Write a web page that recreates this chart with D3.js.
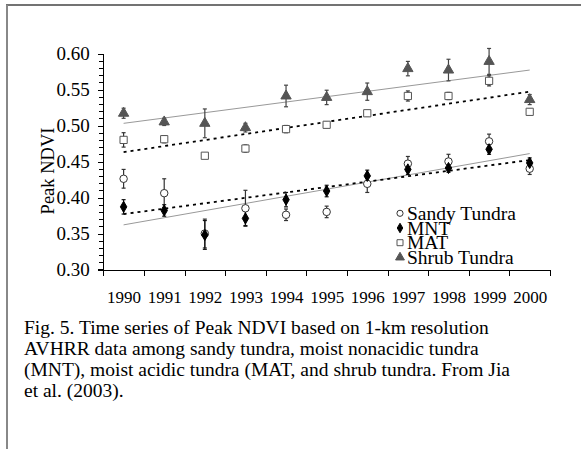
<!DOCTYPE html>
<html>
<head>
<meta charset="utf-8">
<script src="https://cdn.jsdelivr.net/npm/d3@7"></script>
<style>
  body { margin: 0; background: #fff; }
  svg text { font-family: "Liberation Serif", "Times New Roman", serif !important; }
  .axis path, .axis line { stroke: #000; shape-rendering: crispEdges; }
  .axis text { fill: #000; }
</style>
</head>
<body>
<div id="chart"></div>
<script>
const years = [1990, 1991, 1992, 1993, 1994, 1995, 1996, 1997, 1998, 1999, 2000];
const yTicks = [0.30, 0.35, 0.40, 0.45, 0.50, 0.55, 0.60];

const sandy = [0.426, 0.406, 0.350, 0.385, 0.376, 0.380, 0.419, 0.447, 0.450, 0.478, 0.440];
const sandyErr = [0.013, 0.020, 0.020, 0.025, 0.008, 0.008, 0.012, 0.010, 0.010, 0.010, 0.008];
const mnt = [0.387, 0.382, 0.348, 0.371, 0.397, 0.409, 0.430, 0.439, 0.441, 0.467, 0.448];
const mntErr = [0.010, 0.008, 0.020, 0.010, 0.010, 0.008, 0.008, 0.007, 0.006, 0.007, 0.007];
const mat = [0.480, 0.481, 0.458, 0.468, 0.495, 0.501, 0.517, 0.541, 0.541, 0.562, 0.519];
const matErr = [0.010, 0.005, 0.003, 0.005, 0.005, 0.004, 0.004, 0.007, 0.005, 0.007, 0.004];
const shrub = [0.517, 0.505, 0.503, 0.497, 0.541, 0.539, 0.547, 0.579, 0.577, 0.589, 0.536];
const shrubErr = [0.007, 0.005, 0.020, 0.006, 0.015, 0.010, 0.012, 0.010, 0.015, 0.018, 0.007];

// trend line ends (1990, 2000)
const sandyTrend = [0.362, 0.461];
const mntTrend = [0.377, 0.452];
const matTrend = [0.463, 0.547];
const shrubTrend = [0.503, 0.577];

const captionLines = [
  'Fig. 5. Time series of Peak NDVI based on 1-km resolution',
  'AVHRR data among sandy tundra, moist nonacidic tundra',
  '(MNT), moist acidic tundra (MAT, and shrub tundra. From Jia',
  'et al. (2003).'
];

const W = 581, H = 449;
const svg = d3.select('#chart').append('svg').attr('width', W).attr('height', H);

// page frame: top and left rules
svg.append('line').attr('x1', 6).attr('x2', W).attr('y1', 5).attr('y2', 5)
  .attr('stroke', '#444').attr('stroke-width', 1.3);
svg.append('line').attr('x1', 7).attr('x2', 7).attr('y1', 5).attr('y2', H)
  .attr('stroke', '#888').attr('stroke-width', 2);

const x = d3.scaleLinear().domain([1989.5, 2000.5]).range([103.3, 550]);
const y = d3.scaleLinear().domain([0.30, 0.60]).range([269.5, 53.5]);

// minor y ticks
svg.append('g')
  .attr('class', 'axis')
  .attr('transform', 'translate(102.7,0)')
  .call(d3.axisLeft(y).tickValues(d3.range(30, 61).map(v => v / 100)).tickSize(4).tickFormat(''))
  .call(g => g.select('.domain').remove());

svg.append('g')
  .attr('class', 'axis')
  .attr('transform', 'translate(102.7,0)')
  .call(d3.axisLeft(y).tickValues(yTicks).tickSize(5).tickSizeOuter(0).tickPadding(8).tickFormat(d3.format('.2f')))
  .attr('font-family', null)
  .attr('font-size', 19);

// x axis boundaries
svg.append('g')
  .attr('class', 'axis')
  .attr('transform', 'translate(0,269.5)')
  .call(d3.axisBottom(x).tickValues(d3.range(1989.5, 2001, 1)).tickSize(6).tickSizeOuter(0).tickFormat(''));
svg.append('line').attr('x1', 98).attr('x2', 103.3).attr('y1', 269.5).attr('y2', 269.5)
  .attr('stroke', '#000').attr('shape-rendering', 'crispEdges');

svg.append('g')
  .attr('class', 'axis')
  .attr('transform', 'translate(0,269.5)')
  .call(d3.axisBottom(x).tickValues(years).tickSize(0).tickPadding(21.5).tickFormat(d3.format('d')))
  .attr('font-family', null)
  .attr('font-size', 17)
  .call(g => g.select('.domain').remove());

svg.append('text')
  .attr('transform', 'translate(54,171) rotate(-90)')
  .attr('text-anchor', 'middle')
  .attr('font-size', 18.5)
  .text('Peak NDVI');

// trend lines
function trend(ends, dotted) {
  svg.append('line')
    .attr('x1', x(years[0])).attr('x2', x(years[years.length - 1]))
    .attr('y1', y(ends[0])).attr('y2', y(ends[1]))
    .attr('stroke', dotted ? '#000' : '#999')
    .attr('stroke-width', dotted ? 1.8 : 1)
    .attr('stroke-dasharray', dotted ? '3,4' : null);
}
trend(shrubTrend, false);
trend(sandyTrend, false);
trend(matTrend, true);
trend(mntTrend, true);

function errorBars(vals, errs, color) {
  const g = svg.append('g').attr('stroke', color).attr('stroke-width', 1.2);
  vals.forEach((v, i) => {
    const cx = x(years[i]);
    g.append('line').attr('x1', cx).attr('x2', cx).attr('y1', y(v - errs[i])).attr('y2', y(v + errs[i]));
    g.append('line').attr('x1', cx - 2).attr('x2', cx + 2).attr('y1', y(v + errs[i])).attr('y2', y(v + errs[i]));
    g.append('line').attr('x1', cx - 2).attr('x2', cx + 2).attr('y1', y(v - errs[i])).attr('y2', y(v - errs[i]));
  });
}

const symbols = {
  sandy: { type: d3.symbolCircle, size: 44, fill: '#fff', stroke: '#333' },
  mnt: { type: d3.symbolDiamond, size: 36, fill: '#000', stroke: '#000' },
  mat: { type: d3.symbolSquare, size: 52, fill: '#fff', stroke: '#555' },
  shrub: { type: d3.symbolTriangle, size: 46, fill: '#555', stroke: '#555' }
};

function points(vals, sym) {
  svg.append('g').selectAll('path')
    .data(vals)
    .join('path')
    .attr('transform', (d, i) => `translate(${x(years[i])},${y(d)})`)
    .attr('d', d3.symbol().type(sym.type).size(sym.size))
    .attr('fill', sym.fill)
    .attr('stroke', sym.stroke)
    .attr('stroke-width', 1);
}

errorBars(shrub, shrubErr, '#444');
errorBars(mat, matErr, '#333');
errorBars(sandy, sandyErr, '#333');
errorBars(mnt, mntErr, '#111');
points(shrub, symbols.shrub);
points(mat, symbols.mat);
points(sandy, symbols.sandy);
points(mnt, symbols.mnt);

// legend
const legendItems = [
  { label: 'Sandy Tundra', sym: { ...symbols.sandy, size: 30 } },
  { label: 'MNT', sym: { ...symbols.mnt, size: 26 } },
  { label: 'MAT', sym: { ...symbols.mat, size: 36 } },
  { label: 'Shrub Tundra', sym: { ...symbols.shrub, size: 34 } }
];
const legend = svg.append('g').attr('transform', 'translate(400,213.3)');
legendItems.forEach((item, i) => {
  const row = legend.append('g').attr('transform', `translate(0,${i * 14.7})`);
  row.append('path')
    .attr('d', d3.symbol().type(item.sym.type).size(item.sym.size))
    .attr('fill', item.sym.fill)
    .attr('stroke', item.sym.stroke)
    .attr('stroke-width', 1);
  row.append('text')
    .attr('x', 7)
    .attr('y', 6.5)
    .attr('font-size', 19.5)
    .text(item.label);
});

// caption
svg.append('g').selectAll('text')
  .data(captionLines)
  .join('text')
  .attr('x', 24)
  .attr('y', (d, i) => 333.5 + i * 21.1)
  .attr('font-size', 19.5)
  .text(d => d);
</script>
</body>
</html>
